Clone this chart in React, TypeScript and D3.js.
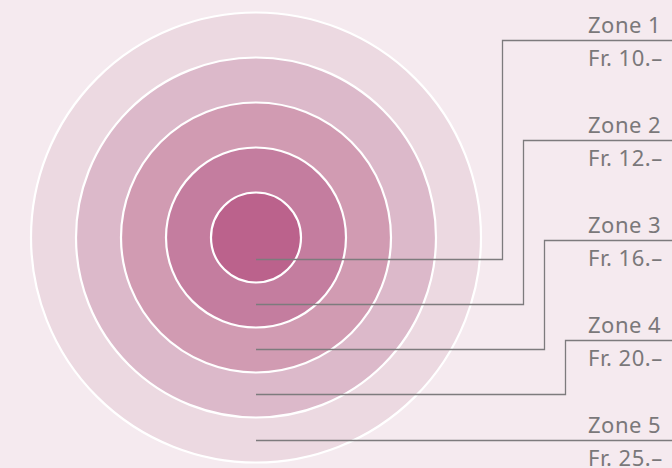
import React from "react";
import * as d3 from "d3";

const zones = ["Zone 1", "Zone 2", "Zone 3", "Zone 4", "Zone 5"];
const prices = ["Fr. 10.–", "Fr. 12.–", "Fr. 16.–", "Fr. 20.–", "Fr. 25.–"];
const ringColors = ["#bb628c", "#c47d9f", "#d19bb2", "#dcb9ca", "#ecd9e1"];

const W = 672;
const H = 468;
const cx = 256;
const cy = 237.5;

export default function App() {
  const idx = d3.range(zones.length);
  const r = d3.scaleLinear().domain([0, zones.length]).range([0, 225]);
  const labelY = d3.scaleLinear().domain([0, zones.length - 1]).range([40.5, 440.5]);
  const elbowX = d3.scaleLinear().domain([0, 1]).range([502.5, 523.5]);
  const textX = 588;

  return (
    <svg
      width={W}
      height={H}
      style={{ position: "absolute", left: 0, top: 0, display: "block", background: "#f5eaef" }}
    >
      <rect x={0} y={0} width={W} height={H} fill="#f5eaef" />
      {idx
        .slice()
        .reverse()
        .map((i) => (
          <circle
            key={"c" + i}
            cx={cx}
            cy={cy}
            r={r(i + 1)}
            fill={ringColors[i]}
            stroke="#ffffff"
            strokeWidth={2.2}
          />
        ))}
      {idx.map((i) => {
        const ay = cy + (r(i) + r(i + 1)) / 2 - 0.5;
        const ly = labelY(i);
        const last = i === zones.length - 1;
        const ex = elbowX(i);
        const d = last
          ? `M${cx},${ly}H${W}`
          : `M${cx},${ay}H${ex}V${ly}H${W}`;
        return (
          <path
            key={"l" + i}
            d={d}
            fill="none"
            stroke="#7d7b7d"
            strokeWidth={1.3}
          />
        );
      })}
      {idx.map((i) => (
        <g
          key={"t" + i}
          fontFamily="'Noto Sans', sans-serif"
          fontSize={22}
          letterSpacing={0.5}
          fill="#7a787a"
        >
          <text x={textX} y={labelY(i) - 8}>
            {zones[i]}
          </text>
          <text x={textX} y={labelY(i) + 25}>
            {prices[i]}
          </text>
        </g>
      ))}
    </svg>
  );
}
